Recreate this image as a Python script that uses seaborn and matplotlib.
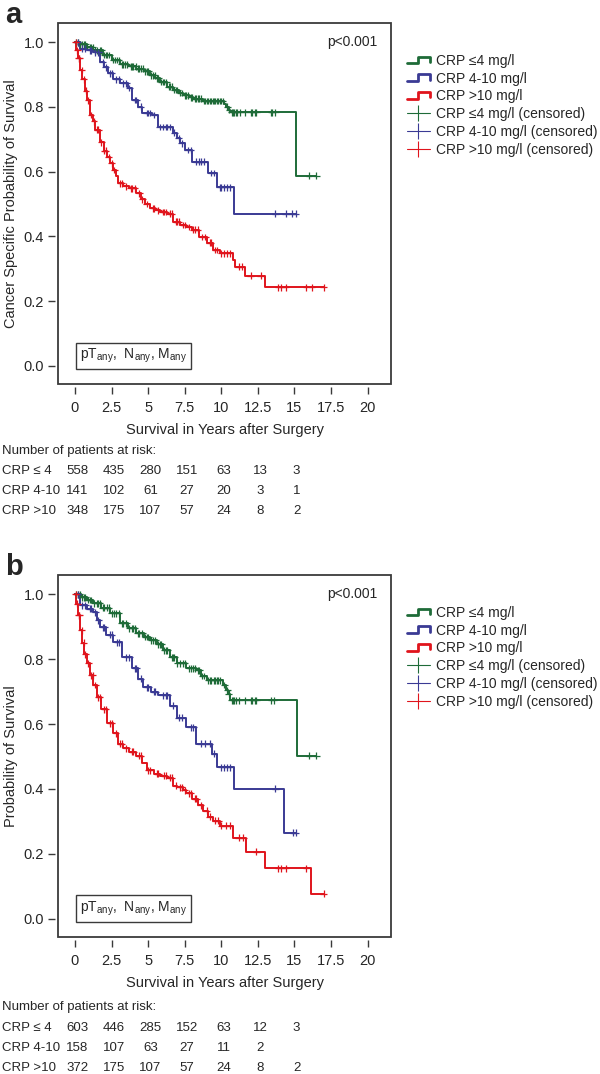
import numpy as np
import pandas as pd
import seaborn as sns
import matplotlib
matplotlib.use('Agg')
import matplotlib.pyplot as plt
from matplotlib.lines import Line2D
from matplotlib.patches import Rectangle
from matplotlib.legend_handler import HandlerBase

# ---------------- data ----------------
groups = ['CRP ≤4 mg/l', 'CRP 4-10 mg/l', 'CRP >10 mg/l']
colors = ['#1e6b38', '#3a3a94', '#e0141c']

# panel a : cancer specific survival
a_green_t = [0, 0.3, 0.8, 1.25, 1.9, 2.5, 3.07, 3.6, 4.2, 4.7, 5.1, 5.5, 5.8, 6.3, 6.7, 7.1, 7.4, 7.8, 8.1, 8.75, 10.2, 10.35, 10.5, 10.6, 15.1, 16.5]
a_green_s = [1.0, 0.993, 0.985, 0.975, 0.96, 0.945, 0.932, 0.925, 0.918, 0.91, 0.898, 0.888, 0.877, 0.862, 0.852, 0.843, 0.836, 0.83, 0.825, 0.818, 0.808, 0.8, 0.79, 0.783, 0.587, 0.587]
a_blue_t = [0, 0.34, 0.8, 1.25, 1.7, 2.0, 2.27, 2.6, 3.07, 3.6, 3.9, 4.3, 4.6, 5.25, 5.7, 6.7, 6.95, 7.2, 7.5, 8.0, 9.1, 9.7, 10.9, 15.1]
a_blue_s = [1.0, 0.98, 0.975, 0.969, 0.938, 0.922, 0.904, 0.885, 0.873, 0.858, 0.821, 0.8, 0.781, 0.775, 0.738, 0.72, 0.704, 0.688, 0.667, 0.63, 0.596, 0.552, 0.47, 0.47]
a_red_t = [0, 0.1, 0.2, 0.34, 0.5, 0.7, 0.85, 1.02, 1.2, 1.4, 1.7, 1.95, 2.2, 2.4, 2.6, 2.8, 2.95, 3.3, 3.7, 4.2, 4.5, 4.8, 5.1, 5.5, 5.8, 6.3, 6.7, 7.2, 7.6, 8.0, 8.5, 9.0, 9.4, 9.9, 10.8, 10.95, 11.6, 13.0, 17.0]
a_red_s = [1.0, 0.975, 0.95, 0.914, 0.885, 0.85, 0.82, 0.775, 0.755, 0.73, 0.69, 0.665, 0.645, 0.626, 0.605, 0.585, 0.564, 0.555, 0.548, 0.533, 0.515, 0.5, 0.487, 0.48, 0.475, 0.47, 0.445, 0.435, 0.429, 0.42, 0.398, 0.38, 0.358, 0.348, 0.327, 0.306, 0.278, 0.243, 0.243]

a_green_cens = [0.1, 0.2, 0.35, 0.5, 0.6, 0.7, 0.85, 1.0, 1.1, 1.2, 1.4, 1.5, 1.7, 1.8, 2.0, 2.1, 2.2, 2.35, 2.6, 2.75, 2.9, 3.0, 3.2, 3.3, 3.4, 3.55, 3.8, 3.9, 4.0, 4.15, 4.3, 4.4, 4.5, 4.65, 4.8, 4.9, 5.0, 5.2, 5.3, 5.45, 5.6, 5.7, 5.9, 6.0, 6.1, 6.25, 6.4, 6.5, 6.6, 6.8, 6.9, 7.0, 7.2, 7.3, 7.5, 7.6, 7.7, 7.9, 8.0, 8.2, 8.3, 8.4, 8.5, 8.6, 8.8, 8.9, 9.0, 9.1, 9.2, 9.3, 9.4, 9.5, 9.6, 9.7, 9.8, 9.9, 10.0, 10.1, 10.4, 10.55, 10.7, 10.8, 10.9, 11.0, 11.1, 11.3, 11.6, 12.0, 12.1, 12.3, 12.4, 13.4, 13.5, 13.7, 16.0, 16.5]
a_blue_cens = [0.2, 0.5, 0.7, 1.0, 1.1, 1.4, 1.6, 1.9, 2.1, 2.4, 2.5, 2.8, 3.0, 3.3, 3.5, 3.7, 4.1, 4.2, 4.5, 4.9, 5.0, 5.1, 5.4, 5.8, 6.0, 6.2, 6.3, 6.5, 6.8, 7.1, 7.3, 7.7, 7.9, 8.3, 8.5, 8.6, 8.8, 9.3, 9.5, 9.9, 10.0, 10.2, 10.4, 10.6, 13.7, 14.4, 14.8, 15.1]
a_red_cens = [0.05, 0.15, 0.25, 0.3, 0.45, 0.6, 0.75, 0.9, 1.1, 1.3, 1.5, 1.6, 1.8, 2.0, 2.1, 2.3, 2.5, 2.7, 3.1, 3.2, 3.5, 3.8, 3.9, 4.1, 4.4, 4.6, 4.9, 5.3, 5.4, 5.7, 6.0, 6.1, 6.2, 6.5, 6.6, 6.9, 7.0, 7.1, 7.4, 7.5, 7.8, 8.1, 8.2, 8.4, 8.7, 8.9, 9.2, 9.3, 9.6, 9.7, 10.0, 10.2, 10.4, 10.6, 11.2, 11.4, 12.0, 12.7, 13.9, 14.1, 14.4, 15.8, 16.2, 17.0]

# panel b : overall survival
b_green_t = [0, 0.4, 0.8, 1.25, 1.8, 2.4, 3.07, 3.6, 4.2, 4.7, 5.1, 5.6, 6.0, 6.5, 6.95, 7.6, 8.3, 8.6, 9.0, 10.1, 10.3, 10.45, 10.6, 15.15, 16.5]
b_green_s = [1.0, 0.99, 0.982, 0.972, 0.958, 0.941, 0.91, 0.895, 0.88, 0.868, 0.858, 0.845, 0.827, 0.806, 0.787, 0.772, 0.765, 0.748, 0.735, 0.72, 0.705, 0.694, 0.673, 0.503, 0.503]
b_blue_t = [0, 0.34, 0.8, 1.25, 1.5, 1.7, 2.1, 2.6, 3.2, 3.9, 4.3, 4.65, 5.2, 5.7, 6.5, 6.95, 7.6, 8.3, 9.35, 9.7, 10.9, 14.3, 15.1]
b_blue_s = [1.0, 0.966, 0.955, 0.944, 0.92, 0.898, 0.875, 0.852, 0.806, 0.772, 0.74, 0.713, 0.7, 0.688, 0.657, 0.62, 0.59, 0.54, 0.509, 0.467, 0.401, 0.265, 0.265]
b_red_t = [0, 0.1, 0.2, 0.34, 0.5, 0.65, 0.8, 1.02, 1.25, 1.5, 1.8, 2.2, 2.6, 2.95, 3.3, 3.7, 4.2, 4.6, 4.9, 5.4, 5.8, 6.3, 6.7, 7.0, 7.4, 7.6, 8.0, 8.4, 8.75, 9.1, 9.4, 9.9, 10.8, 11.7, 13.0, 16.1, 17.0]
b_red_s = [1.0, 0.97, 0.935, 0.889, 0.85, 0.815, 0.787, 0.75, 0.72, 0.682, 0.645, 0.602, 0.571, 0.54, 0.525, 0.515, 0.503, 0.48, 0.457, 0.447, 0.441, 0.435, 0.41, 0.405, 0.396, 0.386, 0.37, 0.35, 0.333, 0.315, 0.302, 0.287, 0.25, 0.207, 0.155, 0.077, 0.077]

b_green_cens = [0.1, 0.2, 0.35, 0.5, 0.6, 0.7, 0.9, 1.0, 1.1, 1.3, 1.5, 1.6, 1.7, 1.9, 2.0, 2.2, 2.3, 2.5, 2.7, 2.8, 3.0, 3.2, 3.3, 3.5, 3.7, 3.9, 4.0, 4.1, 4.3, 4.4, 4.6, 4.8, 4.9, 5.0, 5.2, 5.3, 5.5, 5.7, 5.8, 5.9, 6.1, 6.2, 6.3, 6.6, 6.7, 6.8, 7.0, 7.2, 7.4, 7.5, 7.8, 7.9, 8.1, 8.2, 8.4, 8.5, 8.7, 8.8, 9.1, 9.2, 9.3, 9.5, 9.6, 9.7, 9.8, 9.9, 10.2, 10.4, 10.5, 10.7, 10.8, 10.9, 11.0, 11.2, 11.6, 12.0, 12.1, 12.3, 12.4, 13.4, 13.6, 16.0, 16.5]
b_blue_cens = [0.2, 0.5, 0.7, 1.0, 1.1, 1.4, 1.6, 1.9, 2.0, 2.4, 2.5, 2.9, 3.0, 3.5, 3.7, 4.1, 4.2, 4.5, 4.9, 5.0, 5.4, 5.5, 6.0, 6.2, 6.3, 6.7, 7.1, 7.3, 7.9, 8.1, 8.6, 8.9, 9.2, 9.5, 10.0, 10.2, 10.4, 10.6, 13.7, 14.9, 15.1]
b_red_cens = [0.05, 0.15, 0.25, 0.3, 0.45, 0.6, 0.7, 0.9, 1.1, 1.2, 1.4, 1.6, 1.7, 2.0, 2.1, 2.4, 2.5, 2.8, 3.1, 3.2, 3.5, 3.9, 4.0, 4.4, 4.5, 5.0, 5.1, 5.6, 5.7, 6.1, 6.2, 6.5, 6.6, 6.9, 7.2, 7.3, 7.5, 7.8, 7.9, 8.2, 8.3, 8.6, 9.0, 9.2, 9.6, 9.8, 10.0, 10.3, 10.6, 11.2, 11.5, 12.4, 13.9, 14.1, 14.4, 15.8, 17.0]

# numbers at risk
risk_times = [0, 2.5, 5, 7.5, 10, 12.5, 15]
risk_labels = ['CRP ≤ 4', 'CRP 4-10', 'CRP >10']
a_risk = [[558, 435, 280, 151, 63, 13, 3],
          [141, 102, 61, 27, 20, 3, 1],
          [348, 175, 107, 57, 24, 8, 2]]
b_risk = [[603, 446, 285, 152, 63, 12, 3],
          [158, 107, 63, 27, 11, 2, None],
          [372, 175, 107, 57, 24, 8, 2]]

xticks = [0, 2.5, 5, 7.5, 10, 12.5, 15, 17.5, 20]
xtick_labels = ['0', '2.5', '5', '7.5', '10', '12.5', '15', '17.5', '20']
yticks = [0.0, 0.2, 0.4, 0.6, 0.8, 1.0]

# ---------------- style ----------------
sns.set_style('white')
plt.rcParams['font.family'] = ['Liberation Sans', 'DejaVu Sans']
plt.rcParams['mathtext.fontset'] = 'custom'
plt.rcParams['mathtext.rm'] = 'Liberation Sans'
plt.rcParams['mathtext.it'] = 'Liberation Sans'
FRAME = '#3a3a3a'


class StepHandler(HandlerBase):
    def create_artists(self, legend, orig_handle, xdescent, ydescent,
                       width, height, fontsize, trans):
        xs = np.array([0, 0.5, 0.5, 1.0, 1.0]) * width - xdescent
        ys = np.array([0.15, 0.15, 0.85, 0.85, 0.3]) * height - ydescent
        ln = Line2D(xs, ys, color=orig_handle.get_color(), lw=2)
        ln.set_transform(trans)
        return [ln]


def make_frames(curves, cens):
    rows, crows = [], []
    for g, (t, s), c in zip(groups, curves, cens):
        for ti, si in zip(t, s):
            rows.append((g, ti, si))
        t = np.asarray(t)
        s = np.asarray(s)
        idx = np.searchsorted(t, c, side='right') - 1
        for ci, k in zip(c, idx):
            crows.append((g, ci, s[k]))
    return (pd.DataFrame(rows, columns=['group', 'time', 'surv']),
            pd.DataFrame(crows, columns=['group', 'time', 'surv']))


def draw_panel(ax, curves, cens, ylabel, letter, risk, risk_y):
    df, cdf = make_frames(curves, cens)
    sns.lineplot(data=df, x='time', y='surv', hue='group', palette=colors,
                 hue_order=groups, estimator=None, sort=False,
                 drawstyle='steps-post', lw=1.4, legend=False, ax=ax)
    sns.scatterplot(data=cdf, x='time', y='surv', hue='group', palette=colors,
                    hue_order=groups, marker='+', s=24, linewidth=0.9,
                    legend=False, ax=ax, zorder=3)
    ax.set_xlim(-1.16, 21.6)
    ax.set_ylim(-0.056, 1.059)
    ax.set_xticks(xticks)
    ax.set_xticklabels(xtick_labels)
    ax.set_yticks(yticks)
    ax.set_yticklabels(['%.1f' % v for v in yticks])
    for sp in ax.spines.values():
        sp.set_visible(False)
    ax.spines['bottom'].set_position(('outward', 2.5))
    ax.spines['left'].set_position(('outward', 2.5))
    ax.add_patch(Rectangle((0, 0), 1, 1, transform=ax.transAxes, fill=False,
                           ec=FRAME, lw=1.3, clip_on=False, zorder=5))
    ax.tick_params(axis='both', direction='out', length=5, width=1,
                   color=FRAME, labelsize=10.5, bottom=True, left=True)
    ax.tick_params(axis='x', pad=5)
    ax.tick_params(axis='y', pad=2.5)
    ax.set_xlabel('Survival in Years after Surgery', fontsize=10.5)
    ax.xaxis.set_label_coords(0.5, -0.108)
    ax.set_ylabel(ylabel, fontsize=10.5)
    ax.yaxis.set_label_coords(-0.12, 0.5)

    ax.text(20.7, 1.0, 'p<0.001', ha='right', va='center', fontsize=10)
    ax.text(0.066, 0.078, r'pT$_{\rm any}$,  N$_{\rm any}$, M$_{\rm any}$',
            transform=ax.transAxes, ha='left', va='center', fontsize=10,
            bbox=dict(boxstyle='square,pad=0.3', fc='white', ec=FRAME, lw=1))
    ax.text(-0.16, 1.062, letter, transform=ax.transAxes, fontsize=21,
            fontweight='bold', ha='left', va='top')

    handles = [Line2D([], [], color=c) for c in colors]
    handles += [Line2D([], [], color=c, lw=0.8, marker='|', markersize=12,
                       mew=0.8) for c in colors]
    labels = groups + [g + ' (censored)' for g in groups]
    hmap = {h: StepHandler() for h in handles[:3]}
    ax.legend(handles, labels, handler_map=hmap, loc='upper left',
              bbox_to_anchor=(1.03, 0.93), frameon=False, fontsize=10,
              handlelength=1.7, handletextpad=0.4, labelspacing=0.27,
              borderaxespad=0)

    # numbers at risk table
    fig = ax.figure
    H = 1074.0
    trans = matplotlib.transforms.blended_transform_factory(ax.transData,
                                                           fig.transFigure)
    fig.text(2 / 600, 1 - risk_y[0] / H, 'Number of patients at risk:',
             fontsize=9.5, va='center')
    for r, (lab, vals) in enumerate(zip(risk_labels, risk)):
        yy = 1 - risk_y[r + 1] / H
        fig.text(2 / 600, yy, lab, fontsize=9.5, va='center')
        for t, v in zip(risk_times, vals):
            if v is not None:
                ax.text(t + 0.15, yy, str(v), transform=trans, ha='center',
                        va='center', fontsize=9.5)


fig = plt.figure(figsize=(6, 10.74), dpi=100)
ax_a = fig.add_axes([58 / 600, 1 - 384 / 1074, 333 / 600, 361 / 1074])
ax_b = fig.add_axes([58 / 600, 1 - 937 / 1074, 333 / 600, 362 / 1074])

draw_panel(ax_a, [(a_green_t, a_green_s), (a_blue_t, a_blue_s), (a_red_t, a_red_s)],
           [a_green_cens, a_blue_cens, a_red_cens],
           'Cancer Specific Probability of Survival', 'a', a_risk,
           [451, 471, 491, 511])
draw_panel(ax_b, [(b_green_t, b_green_s), (b_blue_t, b_blue_s), (b_red_t, b_red_s)],
           [b_green_cens, b_blue_cens, b_red_cens],
           'Probability of Survival', 'b', b_risk,
           [1007, 1028, 1048, 1068])

fig.savefig('out.png', dpi=100)
